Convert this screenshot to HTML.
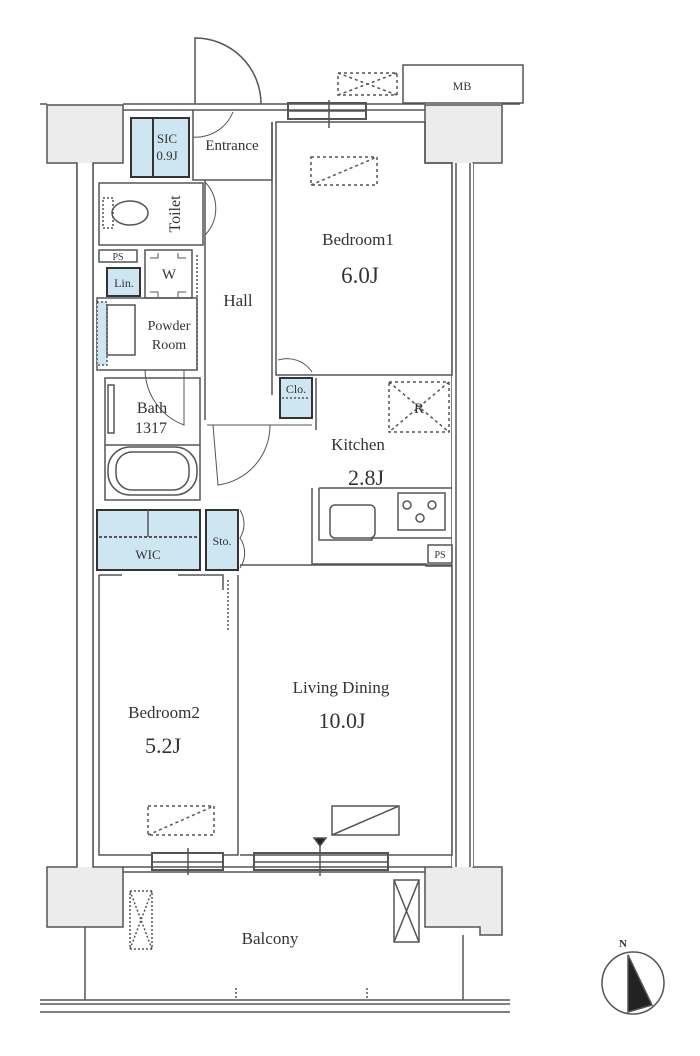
<!DOCTYPE html>
<html><head><meta charset="utf-8"><style>
html,body{margin:0;padding:0;background:#fff;}
svg{display:block}
text{font-family:"Liberation Serif",serif;fill:#333;text-anchor:middle}
</style></head><body>
<svg width="700" height="1056" viewBox="0 0 700 1056" xmlns="http://www.w3.org/2000/svg">
<g fill="none" stroke="#555" stroke-width="1.5">
<!-- columns -->
<path d="M47 105 H123 V163 H93 V867 H123 V927 H47 V867 H77 V163 H47 Z" fill="#ececec"/>
<path d="M425 105 H502 V163 H473 V867 H502 V935 H480 V927 H425 V867 H452 V163 H425 Z" fill="#ececec"/>
<rect x="77" y="163" width="16" height="704" fill="#fff" stroke="none"/>
<rect x="452" y="163" width="21" height="704" fill="#fff" stroke="none"/>
<line x1="77" y1="163" x2="77" y2="867"/><line x1="93" y1="163" x2="93" y2="867"/>
<line x1="456" y1="163" x2="456" y2="867"/><line x1="470" y1="163" x2="470" y2="867"/>
<!-- top wall -->
<line x1="40" y1="104" x2="47" y2="104"/><line x1="502" y1="104" x2="520" y2="104"/>
<line x1="123" y1="104" x2="425" y2="104"/><line x1="123" y1="110" x2="425" y2="110"/>
<!-- MB -->
<rect x="403" y="65" width="120" height="38"/>
<rect x="338" y="73" width="59" height="22" stroke-dasharray="3 3"/>
<path d="M338 73 L397 95 M338 95 L397 73" stroke-dasharray="3 3"/>
<!-- entrance door -->
<path d="M195 104 V38 A66 66 0 0 1 261 104"/>
<rect x="288" y="103" width="78" height="16" stroke-width="2"/>
<line x1="288" y1="111" x2="366" y2="111"/><line x1="329" y1="100" x2="329" y2="128"/>
<!-- bedroom1 -->
<path d="M276 122 V375 H452 V163 H425 V122 Z"/>
<rect x="311" y="157" width="66" height="28" stroke-dasharray="3 3"/>
<path d="M311 185 L377 157" stroke-dasharray="3 3"/>
<!-- entrance/hall lines -->
<path d="M193 110 V180 H272 V122"/>
<line x1="272" y1="122" x2="272" y2="395"/>
<line x1="205" y1="180" x2="205" y2="420"/>
<path d="M205 182 A38 38 0 0 1 205 235 V182" stroke-width="1"/>
<path d="M193 137 A40 40 0 0 0 233 112" stroke-width="1"/>
<!-- SIC -->
<rect x="131" y="118" width="58" height="59" fill="#cde6f2" stroke="#333" stroke-width="2"/>
<line x1="153" y1="118" x2="153" y2="177" stroke="#333" stroke-width="2"/>
<!-- toilet -->
<rect x="99" y="183" width="104" height="62"/>
<path d="M103 198 h10 v30 h-10 z" stroke-dasharray="2 2"/>
<ellipse cx="130" cy="213" rx="18" ry="12"/>
<!-- PS Lin W -->
<rect x="99" y="250" width="38" height="12"/>
<rect x="107" y="268" width="33" height="28" fill="#cde6f2" stroke="#333" stroke-width="2"/>
<rect x="145" y="250" width="47" height="48"/>
<path d="M150 258 h8 v-5 M186 258 h-8 v-5 M150 292 h8 v5 M186 292 h-8 v5" stroke-width="1"/>
<line x1="197" y1="255" x2="197" y2="370" stroke-dasharray="2 2"/>
<!-- powder room -->
<rect x="97" y="298" width="100" height="72"/>
<rect x="97" y="302" width="10" height="63" fill="#cde6f2" stroke-dasharray="2 2"/>
<rect x="107" y="305" width="28" height="50"/>
<!-- bath -->
<rect x="105" y="378" width="95" height="122"/>
<line x1="105" y1="445" x2="200" y2="445"/>
<rect x="108" y="447" width="89" height="48" rx="22"/>
<rect x="116" y="452" width="73" height="38" rx="16"/>
<path d="M145 370 A60 60 0 0 0 184 425 V370" stroke-width="1"/>
<rect x="108" y="385" width="6" height="48"/>
<!-- hall door -->
<path d="M207 425 H312 M213 425 L218 485 A60 60 0 0 0 270 425" stroke-width="1"/>
<!-- Clo -->
<path d="M278 360 A30 30 0 0 1 312 372" stroke-width="1"/>
<rect x="280" y="378" width="32" height="40" fill="#cde6f2" stroke="#333" stroke-width="2"/>
<line x1="282" y1="398" x2="310" y2="398" stroke-dasharray="2 2"/>
<line x1="316" y1="378" x2="316" y2="430"/>
<!-- R -->
<rect x="389" y="382" width="60" height="50" stroke-dasharray="3 3"/>
<path d="M389 382 L449 432 M449 382 L389 432" stroke-dasharray="3 3"/>
<!-- counter -->
<path d="M312 488 V564 H426 V566 H452 M319 488 H452 M319 488 V540 H372 V538 H452"/>
<rect x="330" y="505" width="45" height="33" rx="5"/>
<rect x="398" y="493" width="47" height="37"/>
<circle cx="407" cy="505" r="4"/><circle cx="432" cy="505" r="4"/><circle cx="420" cy="518" r="4"/>
<rect x="428" y="545" width="24" height="18"/>
<!-- WIC Sto -->
<rect x="97" y="510" width="103" height="60" fill="#cde6f2" stroke="#333" stroke-width="2"/>
<line x1="148" y1="510" x2="148" y2="537"/>
<line x1="99" y1="537" x2="198" y2="537" stroke-dasharray="3 2" stroke-width="2"/>
<rect x="206" y="510" width="32" height="60" fill="#cde6f2" stroke="#333" stroke-width="2"/>
<path d="M240 510 A30 28 0 0 1 240 538 A30 28 0 0 1 240 568" stroke-width="1"/>
<!-- bedroom2 -->
<path d="M99 575 H122 M178 575 H223 V590 M99 575 V855 H152 M223 855 H238 V575"/>
<line x1="228" y1="580" x2="228" y2="630" stroke-dasharray="2 2"/>
<rect x="148" y="806" width="66" height="29" stroke-dasharray="3 3"/>
<path d="M148 835 L214 806" stroke-dasharray="3 3"/>
<!-- living -->
<path d="M240 565 H452 V855 H240"/>
<rect x="332" y="806" width="67" height="29"/>
<path d="M332 835 L399 806"/>
<path d="M314 838 h12 l-6 8 z" fill="#222"/>
<!-- bottom windows -->
<rect x="152" y="853" width="71" height="17" stroke-width="2"/>
<line x1="152" y1="862" x2="223" y2="862"/><line x1="188" y1="848" x2="188" y2="875"/>
<rect x="254" y="853" width="134" height="17" stroke-width="2"/>
<line x1="254" y1="862" x2="388" y2="862"/><line x1="320" y1="845" x2="320" y2="876"/>
<line x1="123" y1="867" x2="425" y2="867"/><line x1="123" y1="872" x2="425" y2="872"/>
<!-- balcony -->
<line x1="85" y1="927" x2="85" y2="1000"/><line x1="463" y1="935" x2="463" y2="1000"/>
<line x1="40" y1="1000" x2="510" y2="1000"/><line x1="40" y1="1004" x2="510" y2="1004"/>
<line x1="40" y1="1012" x2="510" y2="1012"/>
<line x1="236" y1="988" x2="236" y2="1000" stroke-dasharray="2 2"/>
<line x1="367" y1="988" x2="367" y2="1000" stroke-dasharray="2 2"/>
<rect x="130" y="891" width="22" height="58" stroke-dasharray="2 2"/>
<path d="M130 891 L152 949 M152 891 L130 949" stroke-dasharray="2 2"/>
<rect x="394" y="880" width="25" height="62"/>
<path d="M394 880 L419 942 M419 880 L394 942"/>
<!-- compass -->
<circle cx="633" cy="983" r="31"/>
<path d="M628 955 L652 1005 L628 1012 Z" fill="#222"/>
</g>
<text x="167" y="143" font-size="13">SIC</text>
<text x="167" y="160" font-size="13">0.9J</text>
<text x="232" y="150" font-size="15">Entrance</text>
<text x="180" y="214" font-size="16" transform="rotate(-90 180 214)">Toilet</text>
<text x="118" y="260" font-size="10">PS</text>
<text x="124" y="287" font-size="12">Lin.</text>
<text x="169" y="279" font-size="15">W</text>
<text x="169" y="330" font-size="14">Powder</text>
<text x="169" y="349" font-size="14">Room</text>
<text x="238" y="306" font-size="17">Hall</text>
<text x="358" y="245" font-size="17">Bedroom1</text>
<text x="360" y="283" font-size="23">6.0J</text>
<text x="296" y="393" font-size="12">Clo.</text>
<text x="419" y="413" font-size="15">R</text>
<text x="358" y="450" font-size="17">Kitchen</text>
<text x="366" y="485" font-size="22">2.8J</text>
<text x="440" y="558" font-size="10">PS</text>
<text x="152" y="413" font-size="16">Bath</text>
<text x="151" y="433" font-size="16">1317</text>
<text x="148" y="559" font-size="13">WIC</text>
<text x="222" y="545" font-size="12">Sto.</text>
<text x="164" y="718" font-size="17">Bedroom2</text>
<text x="163" y="753" font-size="22">5.2J</text>
<text x="341" y="693" font-size="17">Living Dining</text>
<text x="342" y="728" font-size="22">10.0J</text>
<text x="270" y="944" font-size="17">Balcony</text>
<text x="462" y="90" font-size="12">MB</text>
<text x="623" y="947" font-size="11" font-family="Liberation Sans,sans-serif" font-weight="bold">N</text>
</svg>
</body></html>
